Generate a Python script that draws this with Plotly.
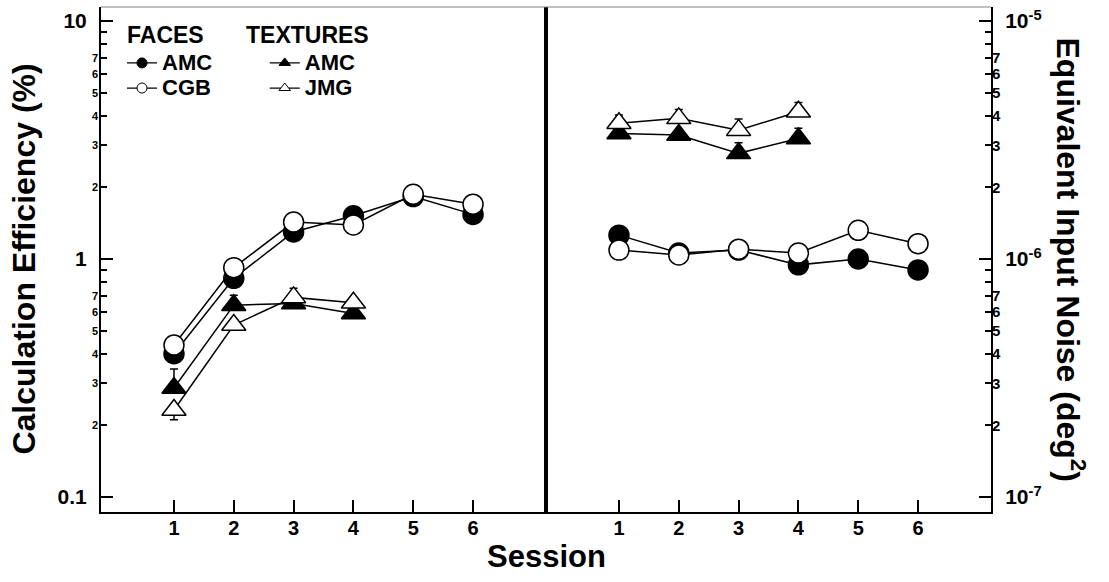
import plotly.graph_objects as go

# ---------------- data ----------------
sessions = [1, 2, 3, 4, 5, 6]
tex_sessions = [1, 2, 3, 4]

# Calculation efficiency (%)
eff_faces_amc = [0.40, 0.83, 1.30, 1.52, 1.83, 1.54]
eff_faces_cgb = [0.435, 0.92, 1.43, 1.39, 1.87, 1.70]
eff_tex_amc = [0.287, 0.64, 0.65, 0.59]
eff_tex_jmg = [0.232, 0.528, 0.69, 0.655]
eff_tex_amc_err_up = [0.058, 0.065, 0.0, 0.0]
eff_tex_jmg_err_up = [0.0, 0.0, 0.063, 0.0]
eff_tex_jmg_err_dn = [0.021, 0.0, 0.0, 0.0]

# Equivalent input noise (deg^2)
neq_faces_amc = [1.26e-6, 1.06e-6, 1.09e-6, 0.945e-6, 1.0e-6, 0.90e-6]
neq_faces_cgb = [1.09e-6, 1.04e-6, 1.10e-6, 1.06e-6, 1.32e-6, 1.16e-6]
neq_tex_amc = [3.37e-6, 3.32e-6, 2.78e-6, 3.21e-6]
neq_tex_jmg = [3.72e-6, 3.90e-6, 3.48e-6, 4.16e-6]
neq_tex_amc_err_up = [0.0, 0.0, 0.30e-6, 0.33e-6]
neq_tex_jmg_err_up = [0.31e-6, 0.35e-6, 0.40e-6, 0.39e-6]

# axis ticks
eff_major = [0.1, 1, 10]
eff_major_text = ["0.1", "1", "10"]
eff_minor_lab = [0.2, 0.3, 0.4, 0.5, 0.6, 0.7, 2, 3, 4, 5, 6, 7]
eff_minor_lab_text = ["2", "3", "4", "5", "6", "7"] * 2
eff_minor_ticks = [0.2, 0.3, 0.4, 0.5, 0.6, 0.7, 0.8, 0.9, 2, 3, 4, 5, 6, 7, 8, 9]

neq_major = [1e-7, 1e-6, 1e-5]
neq_major_text = ["10<sup>-7</sup>", "10<sup>-6</sup>", "10<sup>-5</sup>"]
neq_minor_lab = [2e-7, 3e-7, 4e-7, 5e-7, 6e-7, 7e-7, 2e-6, 3e-6, 4e-6, 5e-6, 6e-6, 7e-6]
neq_minor_lab_text = ["2", "3", "4", "5", "6", "7"] * 2
neq_minor_ticks = [k * 1e-7 for k in range(2, 10)] + [k * 1e-6 for k in range(2, 10)]

FONT = "Liberation Sans"
BLACK = "black"
EFF_RANGE = [-1.063, 1.059]
NEQ_RANGE = [-7.063, -4.941]

fig = go.Figure()

def circle(fill):
    return dict(symbol="circle", size=20, color=fill, line=dict(color=BLACK, width=1.5))

def tri(fill):
    return dict(symbol="triangle-up", size=21, color=fill, line=dict(color=BLACK, width=1.5))

line = dict(color=BLACK, width=1.5)

def err(up, dn=None):
    d = dict(type="data", array=up, symmetric=False, color=BLACK, thickness=1.5, width=4)
    d["arrayminus"] = dn if dn is not None else [0] * len(up)
    return d

# left panel: efficiency
fig.add_trace(go.Scatter(x=sessions, y=eff_faces_amc, mode="lines+markers", line=line,
                         marker=circle(BLACK), showlegend=False, xaxis="x", yaxis="y"))
fig.add_trace(go.Scatter(x=sessions, y=eff_faces_cgb, mode="lines+markers", line=line,
                         marker=circle("white"), showlegend=False, xaxis="x", yaxis="y"))
fig.add_trace(go.Scatter(x=tex_sessions, y=eff_tex_amc, mode="lines+markers", line=line,
                         marker=tri(BLACK), error_y=err(eff_tex_amc_err_up),
                         showlegend=False, xaxis="x", yaxis="y"))
fig.add_trace(go.Scatter(x=tex_sessions, y=eff_tex_jmg, mode="lines+markers", line=line,
                         marker=tri("white"), error_y=err(eff_tex_jmg_err_up, eff_tex_jmg_err_dn),
                         showlegend=False, xaxis="x", yaxis="y"))

# right panel: equivalent input noise
fig.add_trace(go.Scatter(x=sessions, y=neq_faces_amc, mode="lines+markers", line=line,
                         marker=circle(BLACK), showlegend=False, xaxis="x2", yaxis="y2"))
fig.add_trace(go.Scatter(x=sessions, y=neq_faces_cgb, mode="lines+markers", line=line,
                         marker=circle("white"), showlegend=False, xaxis="x2", yaxis="y2"))
fig.add_trace(go.Scatter(x=tex_sessions, y=neq_tex_amc, mode="lines+markers", line=line,
                         marker=tri(BLACK), error_y=err(neq_tex_amc_err_up),
                         showlegend=False, xaxis="x2", yaxis="y2"))
fig.add_trace(go.Scatter(x=tex_sessions, y=neq_tex_jmg, mode="lines+markers", line=line,
                         marker=tri("white"), error_y=err(neq_tex_jmg_err_up),
                         showlegend=False, xaxis="x2", yaxis="y2"))

# empty traces so the overlay axes carrying the small minor-tick labels get drawn
fig.add_trace(go.Scatter(x=[None], y=[None], xaxis="x", yaxis="y3", showlegend=False,
                         hoverinfo="skip"))
fig.add_trace(go.Scatter(x=[None], y=[None], xaxis="x2", yaxis="y4", showlegend=False,
                         hoverinfo="skip"))

# legend entries (no data drawn)
def leg_name(s):
    return '<span style="font-size:22px">%s</span>' % s

legend_items = [
    ("AMC", "circle", BLACK, "legend"),
    ("CGB", "circle", "white", "legend"),
    ("AMC", "triangle-up", BLACK, "legend2"),
    ("JMG", "triangle-up", "white", "legend2"),
]
for name, sym, fill, lg in legend_items:
    fig.add_trace(go.Scatter(x=[None], y=[None], mode="lines+markers", name=leg_name(name),
                             line=dict(color=BLACK, width=1.2),
                             marker=dict(symbol=sym, size=10, color=fill,
                                         line=dict(color=BLACK, width=1)),
                             legend=lg, xaxis="x", yaxis="y"))

xcommon = dict(range=[-0.22, 7.22], tickvals=sessions, ticks="inside", ticklen=12, tickwidth=1.5,
               tickcolor=BLACK, showline=True, linewidth=2, linecolor=BLACK, showgrid=False,
               zeroline=False, ticklabelstandoff=-3,
               tickfont=dict(family=FONT, size=20, color=BLACK, weight="bold"))

fig.update_layout(
    width=1109, height=582,
    margin=dict(l=101, r=118, t=7, b=70),
    paper_bgcolor="white", plot_bgcolor="white",
    font=dict(family=FONT, color=BLACK),
    xaxis=dict(domain=[0, 0.5], anchor="y", **xcommon),
    xaxis2=dict(domain=[0.5, 1], anchor="y2", **xcommon),
    yaxis=dict(type="log", range=EFF_RANGE, anchor="x", side="left",
               tickmode="array", tickvals=eff_major, ticktext=eff_major_text,
               ticks="inside", ticklen=12, tickwidth=1.5, tickcolor=BLACK,
               minor=dict(tickmode="array", tickvals=eff_minor_ticks, ticks="inside",
                          ticklen=6, tickwidth=1.5, tickcolor=BLACK, showgrid=False),
               showline=True, linewidth=2, linecolor=BLACK, mirror=True,
               showgrid=False, zeroline=False, ticklabelstandoff=8,
               tickfont=dict(family=FONT, size=21, color=BLACK, weight="bold")),
    yaxis3=dict(type="log", range=EFF_RANGE, anchor="x", side="left", overlaying="y",
                tickmode="array", tickvals=eff_minor_lab, ticktext=eff_minor_lab_text,
                ticks="", showline=False, showgrid=False, zeroline=False, ticklabelstandoff=2,
                tickfont=dict(family=FONT, size=11, color=BLACK, weight="bold")),
    yaxis2=dict(type="log", range=NEQ_RANGE, anchor="x2", side="right",
                tickmode="array", tickvals=neq_major, ticktext=neq_major_text,
                ticks="inside", ticklen=12, tickwidth=1.5, tickcolor=BLACK,
                minor=dict(tickmode="array", tickvals=neq_minor_ticks, ticks="inside",
                           ticklen=6, tickwidth=1.5, tickcolor=BLACK, showgrid=False),
                showline=True, linewidth=2, linecolor=BLACK, mirror=True,
                showgrid=False, zeroline=False, ticklabelstandoff=8,
                tickfont=dict(family=FONT, size=21, color=BLACK, weight="bold")),
    yaxis4=dict(type="log", range=NEQ_RANGE, anchor="x2", side="right", overlaying="y2",
                tickmode="array", tickvals=neq_minor_lab, ticktext=neq_minor_lab_text,
                ticks="", showline=False, showgrid=False, zeroline=False, ticklabelstandoff=0,
                tickfont=dict(family=FONT, size=15, color=BLACK, weight="bold")),
    legend=dict(x=0.0236, y=0.924, xanchor="left", yanchor="top", bgcolor="rgba(0,0,0,0)",
                borderwidth=0, font=dict(family=FONT, size=17, color=BLACK, weight="bold"),
                itemsizing="trace"),
    legend2=dict(x=0.184, y=0.924, xanchor="left", yanchor="top", bgcolor="rgba(0,0,0,0)",
                 borderwidth=0, font=dict(family=FONT, size=17, color=BLACK, weight="bold"),
                 itemsizing="trace"),
    shapes=[dict(type="line", xref="paper", yref="paper", x0=0, x1=1, y0=1, y1=1,
                 line=dict(color="#808080", width=1))],
    annotations=[
        dict(text="Calculation Efficiency (%)", xref="paper", yref="paper", x=-0.0876, y=0.5,
             textangle=-90, showarrow=False, xanchor="center", yanchor="middle",
             font=dict(family=FONT, size=32, color=BLACK, weight="bold")),
        dict(text="Equivalent Input Noise (deg<sup>2</sup>)", xref="paper", yref="paper",
             x=1.0899, y=0.5, textangle=90, showarrow=False, xanchor="center", yanchor="middle",
             font=dict(family=FONT, size=32, color=BLACK, weight="bold")),
        dict(text="Session", xref="paper", yref="paper", x=0.5, y=-0.088, showarrow=False,
             xanchor="center", yanchor="middle",
             font=dict(family=FONT, size=31, color=BLACK, weight="bold")),
        dict(text="FACES", xref="paper", yref="paper", x=0.028, y=0.944, showarrow=False,
             xanchor="left", yanchor="middle", borderpad=0,
             font=dict(family=FONT, size=23, color=BLACK, weight="bold")),
        dict(text="TEXTURES", xref="paper", yref="paper", x=0.1618, y=0.944, showarrow=False,
             xanchor="left", yanchor="middle", borderpad=0,
             font=dict(family=FONT, size=23, color=BLACK, weight="bold")),
    ],
)

# remove the page's default body margin so the figure sits at the window's top-left
fig.write_html("out.html", config={"displayModeBar": False},
               post_script="document.body.style.margin='0px';")
